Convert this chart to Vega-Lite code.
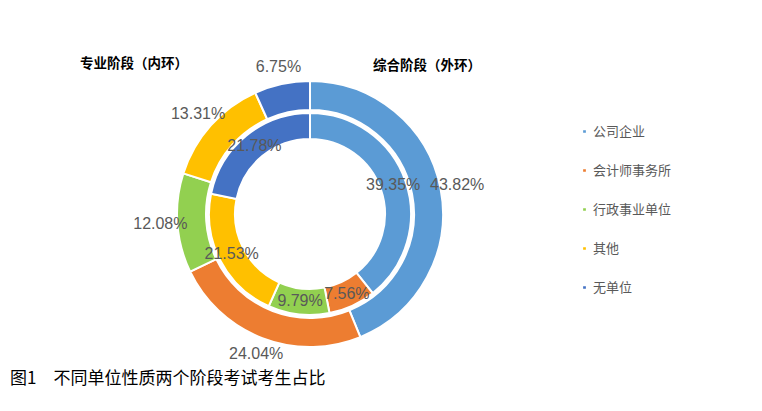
{
  "$schema": "https://vega.github.io/schema/vega-lite/v6.json",
  "background": "white",
  "padding": {"left": 10, "top": 56, "right": 5, "bottom": 5},
  "title": {
    "text": "图1　不同单位性质两个阶段考试考生占比",
    "orient": "bottom",
    "anchor": "start",
    "font": "Noto Sans CJK SC",
    "fontSize": 17,
    "fontWeight": "normal",
    "color": "#000000",
    "offset": 7,
    "dx": -70
  },
  "config": {
    "view": {"stroke": null},
    "text": {"font": "Liberation Sans"}
  },
  "datasets": {
    "rings": [
      {"环": "外环", "单位": "公司企业", "序号": 1, "占比": 0.4382},
      {"环": "外环", "单位": "会计师事务所", "序号": 2, "占比": 0.2404},
      {"环": "外环", "单位": "行政事业单位", "序号": 3, "占比": 0.1208},
      {"环": "外环", "单位": "其他", "序号": 4, "占比": 0.1331},
      {"环": "外环", "单位": "无单位", "序号": 5, "占比": 0.0675},
      {"环": "内环", "单位": "公司企业", "序号": 1, "占比": 0.3935},
      {"环": "内环", "单位": "会计师事务所", "序号": 2, "占比": 0.0756},
      {"环": "内环", "单位": "行政事业单位", "序号": 3, "占比": 0.0979},
      {"环": "内环", "单位": "其他", "序号": 4, "占比": 0.2153},
      {"环": "内环", "单位": "无单位", "序号": 5, "占比": 0.2178}
    ]
  },
  "vconcat": [
    {
      "title": {
        "text": "综合阶段（外环）",
        "anchor": "start",
        "frame": "group",
        "font": "Noto Sans CJK SC",
        "fontSize": 13.5,
        "fontWeight": "bold",
        "color": "#000000",
        "offset": -16,
        "dx": 213
      },
      "vconcat": [
        {
          "width": 300,
          "height": 300,
          "title": {
            "text": "专业阶段（内环）",
            "anchor": "start",
            "frame": "group",
            "font": "Noto Sans CJK SC",
            "fontSize": 13.5,
            "fontWeight": "bold",
            "color": "#000000",
            "offset": -11,
            "dx": -80
          },
          "data": {"name": "rings"},
          "encoding": {
            "theta": {"field": "占比", "type": "quantitative", "stack": true},
            "order": {"field": "序号", "type": "quantitative"}
          },
          "layer": [
            {
              "transform": [{"filter": "datum['环'] === '外环'"}],
              "layer": [
                {
                  "mark": {"type": "arc", "radius": 133, "radius2": 104, "stroke": "white", "strokeWidth": 2},
                  "encoding": {
                    "color": {
                      "field": "单位",
                      "type": "nominal",
                      "scale": {
                        "domain": ["公司企业", "会计师事务所", "行政事业单位", "其他", "无单位"],
                        "range": ["#5B9BD5", "#ED7D31", "#92D050", "#FFC000", "#4472C4"]
                      },
                      "legend": {
                        "title": null,
                        "orient": "none",
                        "legendX": 418,
                        "legendY": 61,
                        "symbolType": "square",
                        "symbolSize": 18,
                        "labelFont": "Noto Sans CJK SC",
                        "labelFontSize": 13,
                        "labelColor": "#595959",
                        "labelOffset": 2,
                        "rowPadding": 25
                      }
                    }
                  }
                },
                {
                  "mark": {"type": "text", "radius": 150, "fontSize": 16, "color": "#595959"},
                  "encoding": {
                    "detail": {"field": "单位"},
                    "text": {"field": "占比", "type": "quantitative", "format": ".2%"}
                  }
                }
              ]
            },
            {
              "transform": [{"filter": "datum['环'] === '内环'"}],
              "layer": [
                {
                  "mark": {"type": "arc", "radius": 101, "radius2": 75, "stroke": "white", "strokeWidth": 2},
                  "encoding": {
                    "color": {"field": "单位", "type": "nominal"}
                  }
                },
                {
                  "mark": {"type": "text", "radius": 88, "fontSize": 16, "color": "#595959"},
                  "encoding": {
                    "detail": {"field": "单位"},
                    "text": {"field": "占比", "type": "quantitative", "format": ".2%"}
                  }
                }
              ]
            }
          ],
          "resolve": {"scale": {"theta": "independent"}}
        }
      ]
    }
  ]
}
